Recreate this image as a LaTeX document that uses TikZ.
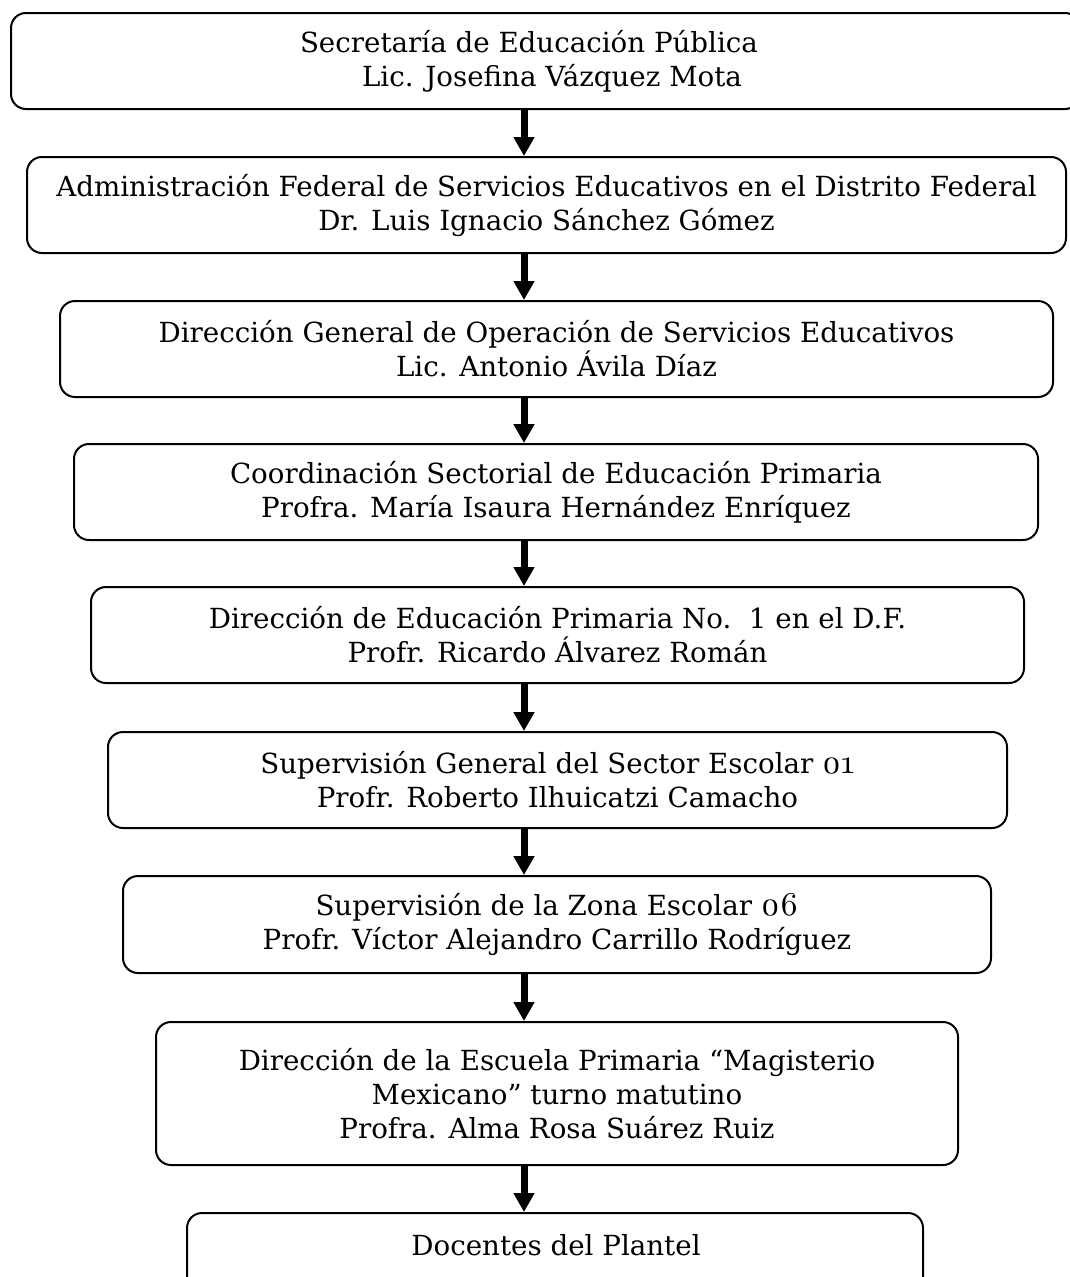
\documentclass[tikz,border=0pt]{standalone}
\usepackage{fontspec}
\setmainfont{DejaVu Serif}
\newfontfamily\osf{lmroman10-regular}[Extension=.otf,Numbers=OldStyle,Scale=1.2]
\usetikzlibrary{arrows.meta}

\tikzset{
  orgbox/.style={draw=black, line width=2pt, rounded corners=15pt,
    align=center, inner sep=0pt, minimum height=96pt,
    font=\fontsize{27.7}{34}\selectfont},
  downarrow/.style={line width=7pt, -{Triangle[width=20pt,length=19pt]}},
}

\begin{document}
\begin{tikzpicture}[x=1pt, y=-1pt]
\useasboundingbox (0,0) rectangle (1070,1277);

% chain of offices, from the ministry down to the school staff
\node[orgbox, minimum width=1069pt] (b1) at (545.5,61)
  {\hspace*{-33pt}Secretaría de Educación Pública\\ \hspace*{13pt}Lic. Josefina Vázquez Mota};
\node[orgbox, minimum width=1039pt] (b2) at (546.5,205)
  {Administración Federal de Servicios Educativos en el Distrito Federal\\ Dr. Luis Ignacio Sánchez Gómez};
\node[orgbox, minimum width=993pt] (b3) at (556.5,349)
  {Dirección General de Operación de Servicios Educativos\\ Lic. Antonio Ávila Díaz};
\node[orgbox, minimum width=964pt] (b4) at (556,492)
  {Coordinación Sectorial de Educación Primaria\\ Profra. María Isaura Hernández Enríquez};
\node[orgbox, minimum width=933pt] (b5) at (557.5,635)
  {Dirección de Educación Primaria No.\ \ 1 en el D.F.\\ Profr. Ricardo Álvarez Román};
\node[orgbox, minimum width=899pt] (b6) at (557.5,780)
  {Supervisión General del Sector Escolar {\osf 01}\\ Profr. Roberto Ilhuicatzi Camacho};
\node[orgbox, minimum width=868pt, minimum height=97pt] (b7) at (557,924.5)
  {Supervisión de la Zona Escolar {\osf 06}\\ Profr. Víctor Alejandro Carrillo Rodríguez};
\node[orgbox, minimum width=802pt, minimum height=143pt] (b8) at (557,1093.5)
  {Dirección de la Escuela Primaria “Magisterio\\ Mexicano” turno matutino\\ Profra. Alma Rosa Suárez Ruiz};
\node[orgbox, minimum width=736pt] (b9) at (555,1261) {};
\node[font=\fontsize{27.7}{34}\selectfont, inner sep=0pt] (t9) at (556,1245) {Docentes del Plantel};

% vertical axis of the arrows
\coordinate (ax) at (524,0);
\foreach \a/\b in {b1/b2, b2/b3, b3/b4, b4/b5, b5/b6, b6/b7, b7/b8, b8/b9}
  \draw[downarrow] (\a.south -| ax) -- (\b.north -| ax);
\end{tikzpicture}
\end{document}
